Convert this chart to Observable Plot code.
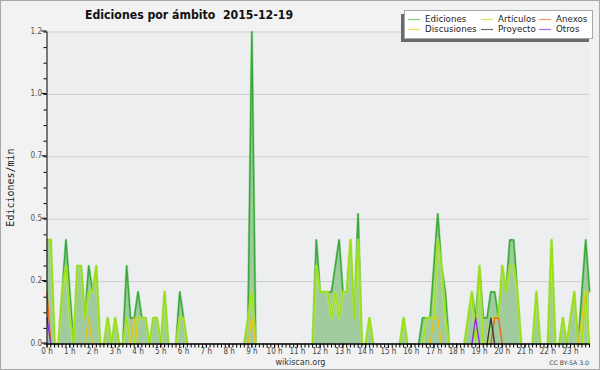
<!DOCTYPE html>
<html><head><meta charset="utf-8">
<script src="https://cdn.jsdelivr.net/npm/d3@7"></script>
<script src="https://cdn.jsdelivr.net/npm/@observablehq/plot@0.6"></script>
<style>
html,body{margin:0;padding:0;background:#f2f2f2;}
#wrap{position:relative;width:600px;height:370px;background:#f2f2f2;overflow:hidden;}
#wrap svg{position:absolute;left:0;top:0;}
</style></head><body>
<div id="wrap"></div>
<script>
// ---------- data (edits per minute, one value per 10-minute bin) ----------
const hourLabels = ["0 h","1 h","2 h","3 h","4 h","5 h","6 h","7 h","8 h","9 h","10 h","11 h",
  "12 h","13 h","14 h","15 h","16 h","17 h","18 h","19 h","20 h","21 h","22 h","23 h"];
const yTicks = [0, 0.24, 0.48, 0.72, 0.96, 1.2];
const yTickLabels = ["0.0","0.2","0.5","0.7","1.0","1.2"];

const ediciones = [
  0.4,0.4,0,0,0.2,0.4,   0.2,0,0.3,0.3,0.1,0.3,   0.2,0.3,0,0,0.1,0,     0.1,0,0,0.3,0.1,0.1,
  0.2,0.1,0.1,0,0.1,0.1, 0,0.2,0,0,0,0.2,         0.1,0,0,0,0,0,         0,0,0,0,0,0,
  0,0,0,0,0,0.1,         1.2,0,0,0,0,0,           0,0,0,0,0,0,           0,0,0,0,0,0.4,
  0.2,0.2,0.2,0.2,0.3,0.4, 0.2,0.2,0.4,0.1,0.5,0, 0,0.1,0,0,0,0,         0,0,0,0,0.1,0,
  0,0,0,0.1,0.1,0.1,     0.3,0.5,0.3,0.2,0,0,     0,0,0,0.1,0.2,0.1,     0.3,0.1,0.1,0.2,0.2,0.1,
  0.3,0.2,0.4,0.4,0.2,0, 0,0,0,0.2,0,0,           0,0.4,0,0,0.1,0,       0.1,0.2,0,0.2,0.4,0.2
];
const articulos = [
  0.4,0.4,0,0,0.2,0.3,   0.1,0,0.3,0.3,0.1,0.2,   0.2,0.3,0,0,0.1,0,     0.1,0,0,0.1,0,0,
  0.1,0.1,0.1,0,0.1,0.1, 0,0.2,0,0,0,0.1,         0.1,0,0,0,0,0,         0,0,0,0,0,0,
  0,0,0,0,0,0.1,         0.2,0,0,0,0,0,           0,0,0,0,0,0,           0,0,0,0,0,0.3,
  0.2,0.2,0.2,0.1,0.2,0.1, 0.2,0.2,0.4,0.1,0.4,0, 0,0.1,0,0,0,0,         0,0,0,0,0.1,0,
  0,0,0,0,0.1,0.1,       0.1,0.4,0.3,0.1,0,0,     0,0,0,0.1,0.2,0,       0.3,0,0,0.1,0.1,0.1,
  0.3,0.2,0.3,0.3,0.2,0, 0,0,0,0.2,0,0,           0,0.4,0,0,0.1,0,       0.1,0.2,0,0,0.2,0
];
// sparse series: [bin, edits/min]
const discusiones = [[11,0.1],[23,0.1],[54,0.1],[102,0.1],[103,0.1],[141,0.1],[142,0.2],[143,0.2]];
const anexos = [[0,0.2],[118,0.1],[119,0.1]];
const proyecto = [[117,0.1]];
const otros = [[0,0.1],[113,0.1]];

const titleText = "Ediciones por ámbito  2015-12-19";
const legendNames = ["Ediciones","Artículos","Anexos","Discusiones","Proyecto","Otros"];
const legendColors = ["#86c986","#c9ec62","#f79868","#f8d85a","#6a6a6a","#a565ec"];

// ---------- build ----------
const N = 144;
function expand(pairs){ const a = new Array(N).fill(0); for (const [i,v] of pairs) a[i] = v; return a; }
function rows(arr){
  return arr.map((v,i) => ({t:i, v,
    y: (v===0 && (arr[i-1] ?? 0)===0 && (arr[i+1] ?? 0)===0) ? NaN : v}));
}
const ed = rows(ediciones), ar = rows(articulos), di = rows(expand(discusiones)),
      an = rows(expand(anexos)), pr = rows(expand(proyecto)), ot = rows(expand(otros));

const font = "'DejaVu Sans Condensed','DejaVu Sans',sans-serif";
const chart = Plot.plot({
  width: 600, height: 370,
  marginLeft: 46.5, marginRight: 11, marginTop: 31.5, marginBottom: 26.5,
  style: {background: "transparent", fontFamily: font, fontSize: "8px", fontStretch: "condensed"},
  x: {domain: [0, 143], axis: null},
  y: {domain: [0, 1.2], axis: null},
  marks: [
    Plot.frame({fill: "#eceef0", stroke: null}),
    Plot.ruleY(yTicks.slice(1), {stroke: "#cdcdcd"}),
    Plot.areaY(ed, {x: "t", y: "v", fill: "#a0cb9e"}),
    Plot.lineY(ed, {x: "t", y: "y", stroke: "#7cc87c", strokeWidth: 2.6, strokeOpacity: 0.6}),
    Plot.lineY(ed, {x: "t", y: "y", stroke: "#38a838", strokeWidth: 1.4}),
    Plot.lineY(ar, {x: "t", y: "y", stroke: "#c8f06a", strokeWidth: 2.8, strokeOpacity: 0.6}),
    Plot.lineY(ar, {x: "t", y: "y", stroke: "#9ee00c", strokeWidth: 1.4}),
    Plot.lineY(di, {x: "t", y: "y", stroke: "#f4c20c", strokeWidth: 1.4}),
    Plot.lineY(an, {x: "t", y: "y", stroke: "#f0641a", strokeWidth: 1.4}),
    Plot.lineY(pr, {x: "t", y: "y", stroke: "#3a3a3a", strokeWidth: 1.4}),
    Plot.lineY(ot, {x: "t", y: "y", stroke: "#8a2cf0", strokeWidth: 1.4}),
    Plot.ruleX([0], {stroke: "#000"}),
    Plot.ruleY([0], {stroke: "#000", strokeWidth: 1.5}),
    Plot.axisY({ticks: yTicks, tickFormat: (d,i) => yTickLabels[i], tickSize: 5, tickPadding: 0,
      stroke: "#000", fill: "#555", dy: -1, label: null}),
    Plot.axisY({ticks: d3.range(0, 1.2001, 0.06), tickFormat: () => "", tickSize: 3, stroke: "#000", label: null}),
    Plot.axisX({ticks: d3.range(0, 144, 6), tickFormat: (d,i) => hourLabels[i], tickSize: 4, tickPadding: 0,
      stroke: "#000", fill: "#444", label: null}),
    Plot.axisX({ticks: d3.range(0, 144), tickFormat: () => "", tickSize: 4, stroke: "#000", label: null})
  ]
});
document.getElementById("wrap").appendChild(chart);

// ---------- overlay texts and legend ----------
const NS = "http://www.w3.org/2000/svg";
const ov = document.createElementNS(NS, "svg");
ov.setAttribute("width", 600); ov.setAttribute("height", 370);
function el(tag, attrs, text){
  const e = document.createElementNS(NS, tag);
  for (const k in attrs) e.setAttribute(k, attrs[k]);
  if (text != null) e.textContent = text;
  ov.appendChild(e); return e;
}
el("rect", {x: 0.5, y: 0.5, width: 599, height: 369, fill: "none", stroke: "#a8a8a8"});
el("text", {x: 85, y: 18.5, "font-family": font, "font-stretch": "condensed", "font-weight": "bold",
  "font-size": 12.2, fill: "#111", style: "white-space:pre"}, titleText);
el("text", {transform: "translate(13.5,187.5) rotate(-90)", "text-anchor": "middle",
  "font-family": "'DejaVu Sans Mono',monospace", "font-size": 10, fill: "#222"}, "Ediciones/min");
el("text", {x: 300.5, y: 365, "text-anchor": "middle", "font-family": "'DejaVu Sans',sans-serif",
  "font-size": 8, fill: "#333"}, "wikiscan.org");
el("text", {x: 589, y: 364.5, "text-anchor": "end", "font-family": "'DejaVu Sans',sans-serif",
  "font-size": 6.2, fill: "#444"}, "CC BY-SA 3.0");
// legend
el("rect", {x: 401, y: 14, width: 188, height: 28, fill: "#6a6a6a"});
el("rect", {x: 404.5, y: 10.5, width: 188, height: 28, fill: "#fff", stroke: "#a8a8a8"});
const lx = [408, 481, 539], ly = [19, 29], tb = [22.3, 32.3];
legendNames.forEach((name, i) => {
  const c = i % 3, r = Math.floor(i / 3);
  el("line", {x1: lx[c], x2: lx[c] + 12, y1: ly[r] + 0.5, y2: ly[r] + 0.5, stroke: legendColors[i], "stroke-width": 1.2});
  el("text", {x: lx[c] + 17, y: tb[r], "font-family": "'DejaVu Sans',sans-serif", "font-size": 8.7, fill: "#222"}, name);
});
document.getElementById("wrap").appendChild(ov);
</script>
</body></html>
